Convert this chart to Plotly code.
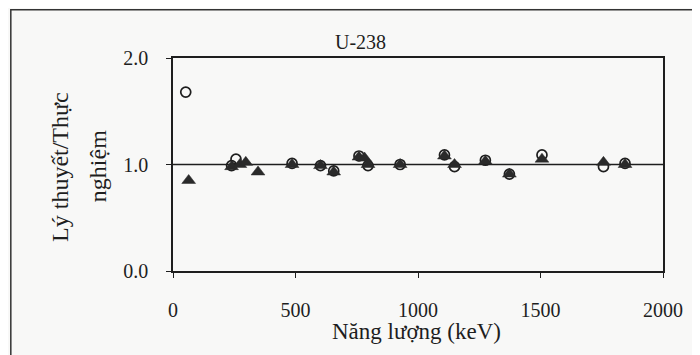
import plotly.graph_objects as go

# ---- data ----
circle_energy = [52, 239, 257, 486, 602, 656, 759, 796, 927, 1108, 1149, 1275, 1373, 1506, 1757, 1845]
circle_ratio = [1.68, 0.99, 1.05, 1.01, 0.99, 0.94, 1.08, 0.99, 1.00, 1.09, 0.98, 1.04, 0.91, 1.09, 0.98, 1.01]

triangle_energy = [64, 239, 273, 297, 347, 486, 602, 656, 759, 782, 796, 927, 1108, 1149, 1275, 1373, 1506, 1757, 1845]
triangle_ratio = [0.85, 0.98, 1.00, 1.02, 0.93, 1.00, 0.99, 0.93, 1.07, 1.06, 1.00, 1.00, 1.08, 1.00, 1.03, 0.91, 1.05, 1.02, 1.00]

x_ticks = [0, 500, 1000, 1500, 2000]
y_ticks = [0.0, 1.0, 2.0]
y_tick_labels = ["0.0", "1.0", "2.0"]
reference_ratio = 1.0

chart_title = "U-238"
x_title = "Năng lượng (keV)"
y_title_line1 = "Lý thuyết/Thực"
y_title_line2 = "nghiệm"

FONT = "Liberation Serif"
INK = "#1e1e1e"
BG = "#f8f8f7"

fig = go.Figure()

fig.add_trace(go.Scatter(
    x=circle_energy, y=circle_ratio, mode="markers",
    marker=dict(symbol="circle-open", size=10, color=INK, line=dict(width=1.7, color=INK)),
    showlegend=False, cliponaxis=False,
))
fig.add_trace(go.Scatter(
    x=triangle_energy, y=triangle_ratio, mode="markers",
    marker=dict(symbol="triangle-up", size=12, color="#2a2a2a", line=dict(width=0.5, color="#2a2a2a")),
    showlegend=False, cliponaxis=False,
))

# reference line at ratio 1
fig.add_shape(type="line", xref="paper", x0=0, x1=1, yref="y", y0=reference_ratio, y1=reference_ratio,
              line=dict(color=INK, width=1.5), layer="below")

# outer chart frame (right and bottom edges fall outside the picture)
fig.add_shape(type="rect", xref="paper", yref="paper", x0=-0.331, x1=1.2, y0=-0.6, y1=1.226,
              line=dict(color="#333", width=1.5), layer="below")

# page body has an 8px margin, so the figure is 8px smaller and margins are shifted
fig.update_layout(
    width=692, height=347,
    margin=dict(l=165, r=37, t=50, b=84),
    paper_bgcolor=BG, plot_bgcolor=BG,
    font=dict(family=FONT, color=INK, size=19),
    xaxis=dict(range=[0, 2000], tickvals=x_ticks, ticks="outside", ticklen=5, tickwidth=1,
               tickcolor=INK, showline=True, linecolor=INK, linewidth=1.5, mirror=True,
               showgrid=False, zeroline=False, ticklabelstandoff=15,
               tickfont=dict(size=20, family=FONT)),
    yaxis=dict(range=[0, 2], tickvals=y_ticks, ticktext=y_tick_labels, ticks="outside", ticklen=5,
               tickwidth=1, tickcolor=INK, showline=True, linecolor=INK, linewidth=1.5, mirror=True,
               showgrid=False, zeroline=False, ticklabelstandoff=14,
               tickfont=dict(size=20, family=FONT)),
    annotations=[
        dict(text=chart_title, xref="paper", yref="paper", x=0.382, y=1.075, showarrow=False,
             xanchor="center", yanchor="middle", font=dict(size=20, family=FONT, color=INK)),
        dict(text=x_title, xref="paper", yref="paper", x=0.497, y=-0.282, showarrow=False,
             xanchor="center", yanchor="middle", font=dict(size=23, family=FONT, color=INK)),
        dict(text=y_title_line1, xref="paper", yref="paper", x=-0.232, y=0.49, showarrow=False,
             textangle=-90, xanchor="center", yanchor="middle", font=dict(size=24, family=FONT, color=INK)),
        dict(text=y_title_line2, xref="paper", yref="paper", x=-0.154, y=0.49, showarrow=False,
             textangle=-90, xanchor="center", yanchor="middle", font=dict(size=24, family=FONT, color=INK)),
    ],
)

fig.write_html("out.html")
